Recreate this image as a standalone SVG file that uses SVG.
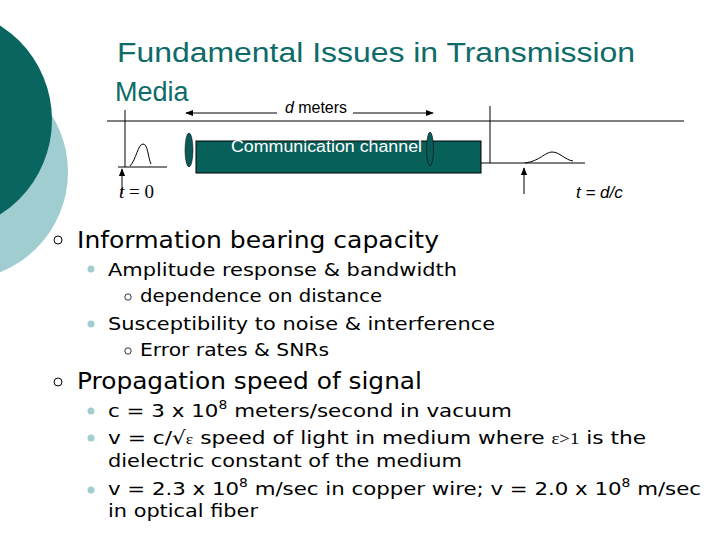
<svg xmlns="http://www.w3.org/2000/svg" width="720" height="540" viewBox="0 0 720 540">
<defs>
<marker id="ah" viewBox="0 0 10 10" refX="9" refY="5" markerWidth="8" markerHeight="8" orient="auto-start-reverse"><path d="M0,1 L10,5 L0,9 z" fill="#000"/></marker>
</defs>
<style>
.t{font-family:"DejaVu Sans",sans-serif;fill:#000}
.ln{stroke:#000;stroke-width:1;fill:none}
.b1{font-size:23px}.b2{font-size:18.5px}.b3{font-size:17px}
</style>
<rect width="720" height="540" fill="#fff"/>
<circle cx="-40" cy="172" r="108" fill="#9fcdd0"/>
<circle cx="-60" cy="120" r="112" fill="#08655f"/>
<g id="title" font-family="'Liberation Sans',Arial,sans-serif" font-size="27" fill="#0d6b68">
<text x="117" y="62" textLength="518" lengthAdjust="spacingAndGlyphs">Fundamental Issues in Transmission</text>
<text x="115" y="101">Media</text>
</g>
<g id="figure">
<line class="ln" x1="107" y1="121" x2="684" y2="121"/>
<line class="ln" x1="125" y1="110" x2="125" y2="167"/>
<line class="ln" x1="118" y1="167" x2="167" y2="167"/>
<path class="ln" d="M130,166 C136,160 138,144 143,144 C148,144 148,158 151,164"/>
<line class="ln" x1="122" y1="194" x2="122" y2="169" stroke-width="1.5" marker-end="url(#ah)"/>
<line class="ln" x1="490" y1="106" x2="490" y2="163"/>
<line class="ln" x1="476" y1="163" x2="585" y2="163"/>
<path class="ln" d="M525,163 C540,161 545,152 552,152 C560,152 565,160 573,161"/>
<line class="ln" x1="524" y1="194" x2="524" y2="168" stroke-width="1.5" marker-end="url(#ah)"/>
<line class="ln" x1="277" y1="113" x2="186" y2="113" marker-end="url(#ah)"/>
<line class="ln" x1="353" y1="113" x2="433" y2="113" marker-end="url(#ah)"/>
<text x="285" y="113" font-family="'Liberation Sans',Arial,sans-serif" font-size="16" textLength="62" lengthAdjust="spacingAndGlyphs"><tspan font-style="italic">d</tspan> meters</text>
<rect x="196" y="141" width="285" height="32" fill="#08605a" stroke="#000"/>
<ellipse cx="189" cy="150" rx="4" ry="17" fill="#0a5a58" stroke="#000" stroke-width="0.5"/>
<ellipse cx="430" cy="149" rx="3.5" ry="17" fill="#0a5a58" stroke="#000" stroke-width="0.5"/>
<text x="231" y="152" font-family="'Liberation Sans',Arial,sans-serif" font-size="16" fill="#fff" textLength="191" lengthAdjust="spacingAndGlyphs">Communication channel</text>
<text x="119" y="198" font-family="'Liberation Serif',serif" font-size="19"><tspan font-style="italic">t</tspan> = 0</text>
<text x="576" y="198" font-family="'Liberation Sans',Arial,sans-serif" font-size="17" font-style="italic">t = d/c</text>
</g>
<g id="bullets">
<circle cx="58" cy="240" r="4" fill="none" stroke="#000" stroke-width="1"/>
<text class="t b1" x="77" y="248" textLength="362" lengthAdjust="spacingAndGlyphs">Information bearing capacity</text>
<circle cx="91" cy="269" r="3.5" fill="#9fcdd0"/>
<text class="t b2" x="108" y="276" textLength="349" lengthAdjust="spacingAndGlyphs">Amplitude response &amp; bandwidth</text>
<circle cx="128" cy="297" r="3.2" fill="none" stroke="#000" stroke-width="0.8"/>
<text class="t b3" x="140" y="302" textLength="242" lengthAdjust="spacingAndGlyphs">dependence on distance</text>
<circle cx="91" cy="324" r="3.5" fill="#9fcdd0"/>
<text class="t b2" x="108" y="330" textLength="387" lengthAdjust="spacingAndGlyphs">Susceptibility to noise &amp; interference</text>
<circle cx="128" cy="351" r="3.2" fill="none" stroke="#000" stroke-width="0.8"/>
<text class="t b3" x="140" y="356" textLength="189" lengthAdjust="spacingAndGlyphs">Error rates &amp; SNRs</text>
<circle cx="58" cy="382" r="4" fill="none" stroke="#000" stroke-width="1"/>
<text class="t b1" x="77" y="389" textLength="345" lengthAdjust="spacingAndGlyphs">Propagation speed of signal</text>
<circle cx="91" cy="411" r="3.5" fill="#9fcdd0"/>
<text class="t b2" x="108" y="417" textLength="404" lengthAdjust="spacingAndGlyphs">c = 3 x 10<tspan font-size="12" dy="-8">8</tspan><tspan dy="8">  meters/second in vacuum</tspan></text>
<circle cx="91" cy="438" r="3.5" fill="#9fcdd0"/>
<text class="t b2" x="108" y="444" textLength="538" lengthAdjust="spacingAndGlyphs">v = c/√<tspan font-family="'Liberation Serif',serif" font-size="15">ε</tspan>  speed of light in medium where <tspan font-family="'Liberation Serif',serif" font-size="16">ε&gt;1</tspan> is the</text>
<text class="t b2" x="108" y="467" textLength="354" lengthAdjust="spacingAndGlyphs">dielectric constant of the medium</text>
<circle cx="91" cy="490" r="3.5" fill="#9fcdd0"/>
<text class="t b2" x="108" y="495" textLength="593" lengthAdjust="spacingAndGlyphs">v = 2.3 x 10<tspan font-size="12" dy="-8">8</tspan><tspan dy="8"> m/sec in copper wire; v = 2.0 x 10</tspan><tspan font-size="12" dy="-8">8</tspan><tspan dy="8"> m/sec</tspan></text>
<text class="t b2" x="108" y="517" textLength="150" lengthAdjust="spacingAndGlyphs">in optical fiber</text>
</g>
</svg>
